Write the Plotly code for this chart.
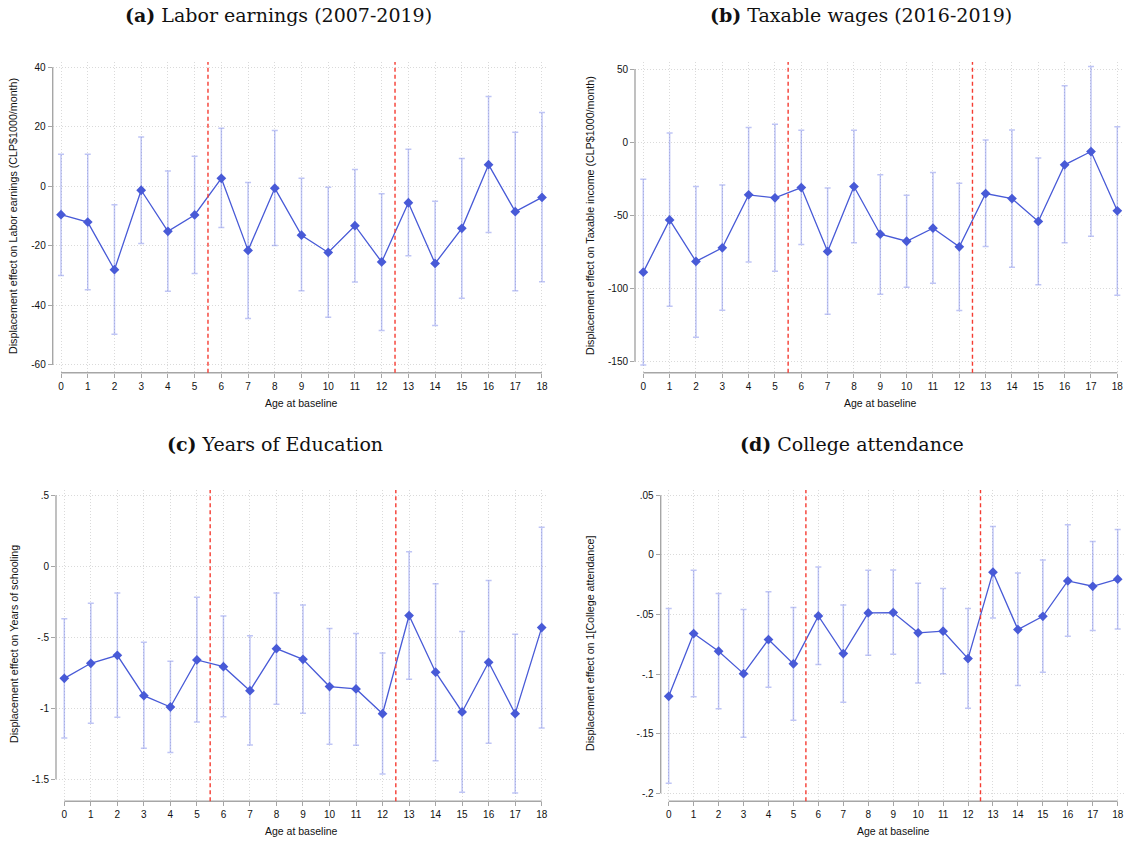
import plotly.graph_objects as go

# Age at baseline (shared x axis for every panel)
ages = list(range(19))

# (a) Labor earnings, CLP$1000/month
earn_est = [-9.5, -12.0, -28.0, -1.3, -15.1, -9.6, 2.7, -21.5, -0.6, -16.4,
            -22.2, -13.2, -25.4, -5.5, -25.9, -14.1, 7.3, -8.5, -3.7]
earn_lo = [-29.9, -34.7, -49.7, -19.2, -35.2, -29.3, -13.8, -44.4, -19.9, -35.1,
           -44.0, -32.1, -48.4, -23.3, -46.7, -37.6, -15.5, -35.1, -32.0]
earn_hi = [10.8, 10.8, -6.2, 16.6, 5.2, 10.1, 19.5, 1.3, 18.8, 2.7,
           -0.3, 5.7, -2.5, 12.5, -5.0, 9.4, 30.2, 18.2, 24.8]

# (b) Taxable wages, CLP$1000/month
wage_est = [-88.8, -53.1, -81.5, -72.2, -36.0, -38.0, -31.0, -74.7, -30.3, -62.9,
            -67.7, -58.8, -71.5, -35.1, -38.5, -54.2, -15.5, -6.4, -46.9]
wage_lo = [-152.2, -112.1, -133.3, -114.8, -81.8, -88.2, -69.9, -117.5, -68.8, -103.9,
           -99.1, -96.4, -115.0, -71.3, -85.4, -97.5, -68.8, -64.2, -104.6]
wage_hi = [-25.3, 6.2, -30.3, -29.2, 10.0, 12.3, 8.2, -31.4, 8.2, -22.3,
           -36.2, -20.7, -28.0, 1.4, 8.4, -10.9, 38.5, 51.7, 10.5]

# (c) Years of schooling
educ_est = [-0.789, -0.683, -0.627, -0.911, -0.991, -0.660, -0.707, -0.876, -0.580, -0.655,
            -0.847, -0.864, -1.038, -0.347, -0.746, -1.026, -0.676, -1.038, -0.432]
educ_lo = [-1.209, -1.106, -1.063, -1.282, -1.312, -1.096, -1.059, -1.258, -0.972, -1.035,
           -1.254, -1.261, -1.462, -0.796, -1.369, -1.592, -1.246, -1.596, -1.138]
educ_hi = [-0.369, -0.261, -0.188, -0.535, -0.669, -0.218, -0.350, -0.490, -0.188, -0.272,
           -0.439, -0.474, -0.610, 0.103, -0.124, -0.460, -0.101, -0.479, 0.275]

# (d) 1[College attendance]
coll_est = [-0.1186, -0.0660, -0.0808, -0.0996, -0.0710, -0.0914, -0.0512, -0.0828, -0.0487, -0.0484,
            -0.0654, -0.0640, -0.0870, -0.0145, -0.0626, -0.0515, -0.0218, -0.0263, -0.0204]
coll_lo = [-0.1916, -0.1190, -0.1290, -0.1530, -0.1110, -0.1387, -0.0920, -0.1236, -0.0842, -0.0833,
           -0.1074, -0.0996, -0.1286, -0.0529, -0.1096, -0.0984, -0.0682, -0.0635, -0.0621]
coll_hi = [-0.0450, -0.0129, -0.0324, -0.0459, -0.0310, -0.0442, -0.0101, -0.0420, -0.0129, -0.0126,
           -0.0238, -0.0282, -0.0450, 0.0238, -0.0151, -0.0042, 0.0252, 0.0112, 0.0213]

# Cohort cut-offs marked by dashed lines
cutoffs = [5.5, 12.5]

titles = ["<b>(a)</b> Labor earnings (2007-2019)",
          "<b>(b)</b> Taxable wages (2016-2019)",
          "<b>(c)</b> Years of Education",
          "<b>(d)</b> College attendance"]
ytitles = ["Displacement effect on Labor earnings (CLP$1000/month)",
           "Displacement effect on Taxable income (CLP$1000/month)",
           "Displacement effect on Years of schooling",
           "Displacement effect on 1[College attendance]"]
xtitle = "Age at baseline"

ytick_vals = [[40, 20, 0, -20, -40, -60],
              [50, 0, -50, -100, -150],
              [0.5, 0, -0.5, -1, -1.5],
              [0.05, 0, -0.05, -0.1, -0.15, -0.2]]
ytick_text = [["40", "20", "0", "-20", "-40", "-60"],
              ["50", "0", "-50", "-100", "-150"],
              [".5", "0", "-.5", "-1", "-1.5"],
              [".05", "0", "-.05", "-.1", "-.15", "-.2"]]

series = [(earn_est, earn_lo, earn_hi), (wage_est, wage_lo, wage_hi),
          (educ_est, educ_lo, educ_hi), (coll_est, coll_lo, coll_hi)]

W, H = 1127, 844
# panel geometry in pixels: (left, right, top, bottom) of each plotting area
panels_px = [(52.7, 548, 62, 372.7), (635, 1123, 62, 372.7),
             (56, 548, 490, 801.3), (660.7, 1125, 490, 801.3)]
xranges = [[-0.311, 18.225], [-0.315, 18.216], [-0.313, 18.238], [-0.321, 18.293]]
yranges = [[-62.59, 41.78], [-157.52, 54.78], [-1.655, 0.537], [-0.2067, 0.05445]]
title_pos = [(278, 15), (861, 15), (275, 444), (852, 444)]
ytitle_pos = [(13, 216), (590, 216), (14, 644), (590, 643)]
xtitle_pos = [(301, 403), (880, 403), (301, 831), (893, 831)]

BLUE = "rgb(72,90,215)"
CI = "rgba(95,110,230,0.40)"
AXIS = "#a6a6a6"
GRID = "#dadada"
TICKFONT = dict(family="Liberation Sans, Arial, sans-serif", size=10, color="#111")

fig = go.Figure()
annotations = []
shapes = []

for i in range(4):
    est, lo, hi = series[i]
    sfx = "" if i == 0 else str(i + 1)
    xa, ya = "x" + sfx, "y" + sfx
    fig.add_trace(go.Scatter(
        x=ages, y=est, xaxis=xa, yaxis=ya, mode="lines+markers",
        line=dict(color=BLUE, width=1.3),
        marker=dict(symbol="diamond", size=7.5, color=BLUE),
        error_y=dict(type="data", symmetric=False,
                     array=[h - e for h, e in zip(hi, est)],
                     arrayminus=[e - l for e, l in zip(est, lo)],
                     color=CI, thickness=1.5, width=3),
        showlegend=False, hoverinfo="skip"))

    l, r, t, b = panels_px[i]
    dom_x = [l / W, r / W]
    dom_y = [1 - b / H, 1 - t / H]
    common = dict(showline=False, zeroline=False, showgrid=True,
                  gridcolor=GRID, gridwidth=1, griddash="1px,2px",
                  ticks="outside", ticklen=4, tickwidth=1.2, tickcolor=AXIS,
                  tickfont=TICKFONT)
    fig.update_layout(**{
        ("xaxis" + sfx): dict(domain=dom_x, range=xranges[i], anchor=ya,
                              tickmode="array", tickvals=ages,
                              ticktext=[str(a) for a in ages], **common),
        ("yaxis" + sfx): dict(domain=dom_y, range=yranges[i], anchor=xa,
                              tickmode="array", tickvals=ytick_vals[i],
                              ticktext=ytick_text[i], **common),
    })

    # axis lines spanning the tick range only
    yv = ytick_vals[i]
    shapes.append(dict(type="line", xref=xa + " domain", yref=ya,
                       x0=0, x1=0, y0=min(yv), y1=max(yv),
                       line=dict(color=AXIS, width=1.4)))
    shapes.append(dict(type="line", xref=xa, yref=ya + " domain",
                       x0=ages[0], x1=ages[-1], y0=0, y1=0,
                       line=dict(color=AXIS, width=1.4)))
    for c in cutoffs:
        shapes.append(dict(type="line", xref=xa, yref=ya + " domain",
                           x0=c, x1=c, y0=0, y1=1,
                           line=dict(color="rgb(245,60,50)", width=1.4, dash="4px,3px")))

    tx, ty = title_pos[i]
    annotations.append(dict(text=titles[i], x=tx / W, y=1 - ty / H, xref="paper", yref="paper",
                            xanchor="center", yanchor="middle", showarrow=False,
                            font=dict(family="DejaVu Serif, serif", size=19, color="#111")))
    yx, yy = ytitle_pos[i]
    annotations.append(dict(text=ytitles[i], x=yx / W, y=1 - yy / H, xref="paper", yref="paper",
                            xanchor="center", yanchor="middle", showarrow=False, textangle=-90,
                            font=dict(family="Liberation Sans, Arial, sans-serif", size=10.7, color="#111")))
    xx, xy = xtitle_pos[i]
    annotations.append(dict(text=xtitle, x=xx / W, y=1 - xy / H, xref="paper", yref="paper",
                            xanchor="center", yanchor="middle", showarrow=False,
                            font=dict(family="Liberation Sans, Arial, sans-serif", size=10.5, color="#111")))

fig.update_layout(width=W, height=H, margin=dict(l=0, r=0, t=0, b=0),
                  paper_bgcolor="white", plot_bgcolor="white",
                  annotations=annotations, shapes=shapes)

fig.write_html("out.html")
